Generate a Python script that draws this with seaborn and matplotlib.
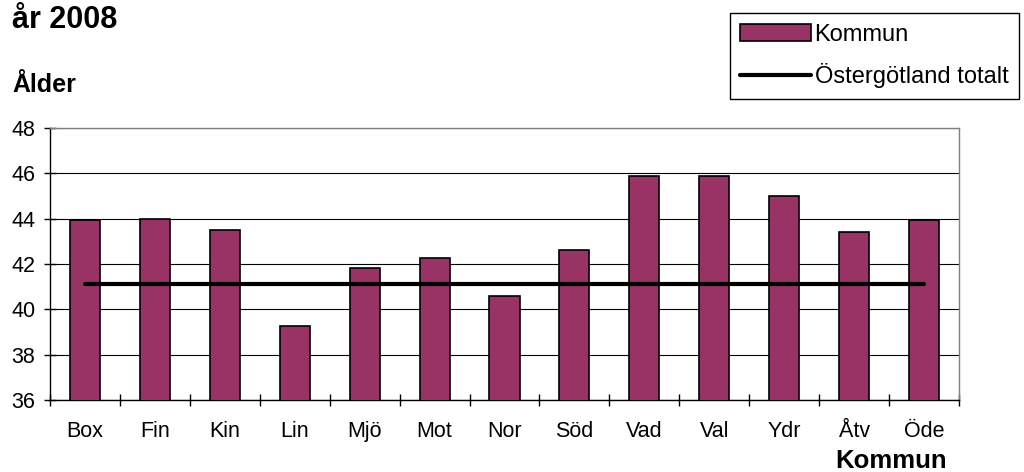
import numpy as np
import pandas as pd
import seaborn as sns
import matplotlib.pyplot as plt
from matplotlib.ticker import FixedLocator

# data
kommuner = ['Box', 'Fin', 'Kin', 'Lin', 'Mjö', 'Mot', 'Nor', 'Söd', 'Vad', 'Val', 'Ydr', 'Åtv', 'Öde']
alder = [43.95, 44.0, 43.5, 39.25, 41.82, 42.25, 40.6, 42.62, 45.9, 45.9, 45.0, 43.43, 43.95]
ostergotland_totalt = 41.1
y_ticks = [36, 38, 40, 42, 44, 46, 48]

sns.set_style('white')
plt.rcParams['font.family'] = ['Liberation Sans', 'DejaVu Sans']
plt.rcParams['text.color'] = 'black'
plt.rcParams['xtick.color'] = 'black'
plt.rcParams['ytick.color'] = 'black'

df = pd.DataFrame({'Kommun': kommuner, 'Ålder': alder})
df_tot = pd.DataFrame({'Kommun': kommuner, 'Ålder': [ostergotland_totalt] * len(kommuner)})

fig = plt.figure(figsize=(10.24, 4.72), dpi=100)
ax = fig.add_axes([50 / 1024, 1 - 400 / 472, 909 / 1024, 272 / 472])

sns.barplot(data=df, x='Kommun', y='Ålder', color='#993366', saturation=1,
            edgecolor='black', linewidth=1.2, width=0.43, ax=ax, label='Kommun', zorder=3)
sns.lineplot(data=df_tot, x='Kommun', y='Ålder', color='black', linewidth=3,
             ax=ax, label='Östergötland totalt', zorder=4)

ax.set_xlim(-0.5, len(kommuner) - 0.5)
ax.set_ylim(36, 48)
ax.set_yticks(y_ticks)
ax.yaxis.grid(True, color='black', linewidth=0.8)
ax.set_axisbelow(True)

# tick marks sit between the categories
ax.xaxis.set_minor_locator(FixedLocator(np.arange(-0.5, len(kommuner), 1)))
ax.tick_params(axis='x', which='major', length=0, pad=15, labelsize=15.5, labelcolor='black')
ax.tick_params(axis='x', which='minor', direction='inout', length=9, width=1, color='black', bottom=True)
ax.tick_params(axis='y', direction='inout', length=9, width=1, color='black', left=True, pad=6,
               labelsize=15.5, labelcolor='black')

for s in ['left', 'bottom']:
    ax.spines[s].set_color('black')
    ax.spines[s].set_linewidth(1)
for s in ['top', 'right']:
    ax.spines[s].set_color('#808080')
    ax.spines[s].set_linewidth(1)

ax.set_xlabel('')
ax.set_ylabel('')

fig.text(12 / 1024, 1 - 28 / 472, 'år 2008', fontsize=22, fontweight='bold', va='baseline')
fig.text(12 / 1024, 1 - 92 / 472, 'Ålder', fontsize=18, fontweight='bold', va='baseline')
fig.text(891 / 1024, 1 - 468 / 472, 'Kommun', fontsize=18.5, fontweight='bold', ha='center', va='baseline')

handles, labels = ax.get_legend_handles_labels()
order = [labels.index('Kommun'), labels.index('Östergötland totalt')]
leg = ax.legend([handles[i] for i in order], [labels[i] for i in order],
                loc='upper right', bbox_to_anchor=(1019 / 1024, 1 - 13 / 472),
                bbox_transform=fig.transFigure, borderaxespad=0, fontsize=17,
                frameon=True, fancybox=False, framealpha=1, edgecolor='black',
                handlelength=3.0, handletextpad=0.15, borderpad=0.45, labelspacing=0.75)
leg.get_frame().set_linewidth(1)

fig.savefig('out.png', dpi=100)
